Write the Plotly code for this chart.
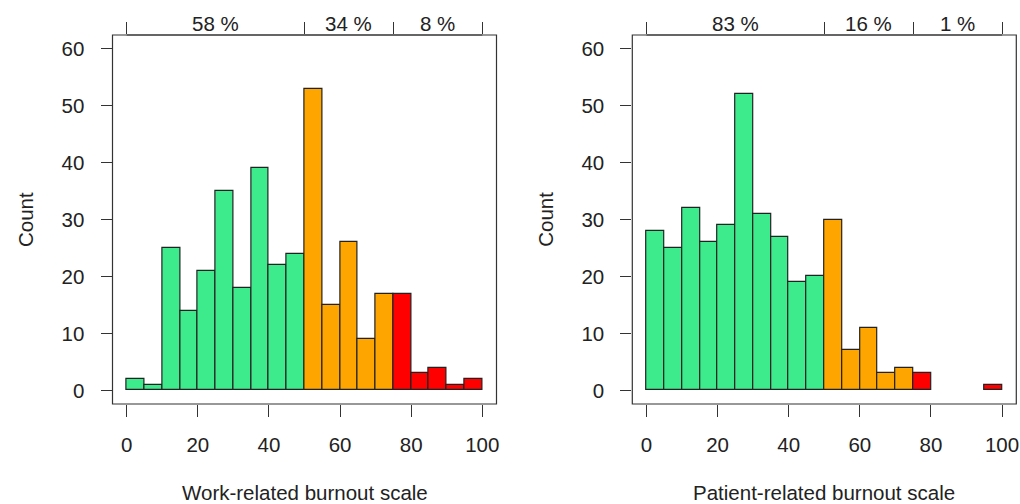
import plotly.graph_objects as go

bin_starts = [0, 5, 10, 15, 20, 25, 30, 35, 40, 45, 50, 55, 60, 65, 70, 75, 80, 85, 90, 95]
work_counts = [2, 1, 25, 14, 21, 35, 18, 39, 22, 24, 53, 15, 26, 9, 17, 17, 3, 4, 1, 2]
patient_counts = [28, 25, 32, 26, 29, 52, 31, 27, 19, 20, 30, 7, 11, 3, 4, 3, 0, 0, 0, 1]
cut_points = [0, 50, 75, 100]
work_pct = ["58 %", "34 %", "8 %"]
patient_pct = ["83 %", "16 %", "1 %"]
titles = ["Work-related burnout scale", "Patient-related burnout scale"]

GREEN, ORANGE, RED = "#3EEB8C", "#FFA500", "#FF0000"
FONT = "Liberation Sans, Arial, sans-serif"
FS = 20.5
W, H = 1020, 504
BIN_W = 5

def color_for(x):
    if x < 50:
        return GREEN
    if x < 75:
        return ORANGE
    return RED

fig = go.Figure()

# panel pixel geometry
panels = [(112.5, 496.5), (632.3, 1016.3)]
y_bot, y_top = 404, 35
ydom = [(H - y_bot) / H, (H - y_top) / H]

for i, (counts, pcts, title) in enumerate([(work_counts, work_pct, titles[0]),
                                           (patient_counts, patient_pct, titles[1])]):
    xa = "x" if i == 0 else "x2"
    ya = "y" if i == 0 else "y2"
    centers = [s + BIN_W / 2 for s in bin_starts]
    fig.add_trace(go.Bar(
        x=centers, y=counts, width=[BIN_W] * len(centers),
        marker=dict(color=[color_for(s) for s in bin_starts],
                    line=dict(color="#222222", width=[1.2 if c > 0 else 0 for c in counts])),
        xaxis=xa, yaxis=ya, showlegend=False, hoverinfo="x+y",
    ))
    x0, x1 = panels[i]
    dom = [x0 / W, x1 / W]
    ax_common = dict(domain=dom, range=[-4, 104], tickvals=[0, 20, 40, 60, 80, 100],
                     ticks="outside", ticklen=12, tickwidth=1.2, tickcolor="#333333",
                     showgrid=False, zeroline=False, showline=False, automargin=False,
                     tickfont=dict(family=FONT, size=FS, color="#222222"),
                     ticklabelstandoff=10)
    yax_common = dict(domain=ydom, range=[-2.4, 62.4], tickvals=[0, 10, 20, 30, 40, 50, 60],
                      ticks="outside", ticklen=11, tickwidth=1.2, tickcolor="#333333",
                      showgrid=False, zeroline=False, showline=False, automargin=False,
                      tickfont=dict(family=FONT, size=FS, color="#222222"),
                      ticklabelstandoff=12)
    top_ax = dict(domain=dom, range=[-4, 104], tickvals=cut_points, side="top",
                  ticks="outside", ticklen=12, tickwidth=1.2, tickcolor="#333333",
                  showticklabels=False, showgrid=False, zeroline=False, showline=False,
                  automargin=False, overlaying=xa)
    if i == 0:
        fig.update_layout(xaxis=dict(anchor="y", **ax_common), yaxis=dict(anchor="x", **yax_common),
                          xaxis3=dict(anchor="y", **top_ax))
    else:
        fig.update_layout(xaxis2=dict(anchor="y2", **ax_common), yaxis2=dict(anchor="x2", **yax_common),
                          xaxis4=dict(anchor="y2", **top_ax))
    # invisible trace on top axis so it renders
    fig.add_trace(go.Scatter(x=cut_points, y=[None] * len(cut_points),
                             xaxis="x3" if i == 0 else "x4", yaxis=ya,
                             showlegend=False, hoverinfo="skip"))
    # top axis line from 0 to 100
    fig.add_shape(type="line", xref=xa, yref="paper", x0=cut_points[0], x1=cut_points[-1],
                  y0=ydom[1], y1=ydom[1], line=dict(color="#333333", width=1.2))
    # box
    fig.add_shape(type="rect", xref="paper", yref="paper", x0=dom[0], x1=dom[1],
                  y0=ydom[0], y1=ydom[1], line=dict(color="#333333", width=1.2))
    # percent labels
    for j, p in enumerate(pcts):
        fig.add_annotation(x=(cut_points[j] + cut_points[j + 1]) / 2, xref=xa,
                           y=(H - 23.5) / H, yref="paper", text=p, showarrow=False,
                           font=dict(family=FONT, size=FS, color="#222222"),
                           xanchor="center", yanchor="middle")
    # y title
    fig.add_annotation(x=(x0 - 87) / W, xref="paper", y=(H - 219.5) / H, yref="paper",
                       text="Count", textangle=-90, showarrow=False,
                       font=dict(family=FONT, size=FS, color="#222222"),
                       xanchor="center", yanchor="middle")
    # x title
    fig.add_annotation(x=(x0 + x1) / 2 / W, xref="paper", y=(H - 492) / H, yref="paper",
                       text=title, showarrow=False,
                       font=dict(family=FONT, size=FS, color="#222222"),
                       xanchor="center", yanchor="middle")

fig.update_layout(width=W, height=H, margin=dict(l=0, r=0, t=0, b=0, autoexpand=False),
                  plot_bgcolor="white", paper_bgcolor="white", bargap=0)

fig.write_html("out.html", config={"displayModeBar": False},
               post_script="document.body.style.margin='0';document.body.style.overflow='hidden';")
